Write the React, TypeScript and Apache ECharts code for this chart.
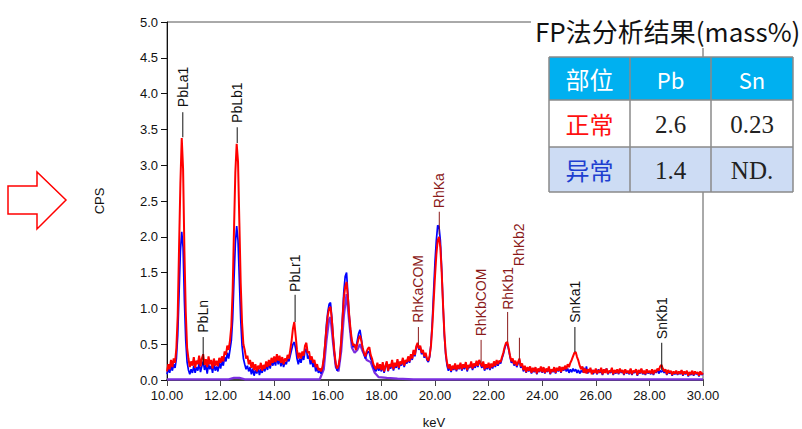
import React, { useEffect, useRef } from "react";
import * as echarts from "echarts";

// ---------- data ----------
const KEV_START = 10;
const KEV_STEP = 0.05;
const X_MIN = 10;
const X_MAX = 30;
const X_INTERVAL = 2;
const Y_MIN = 0;
const Y_MAX = 5;
const Y_INTERVAL = 0.5;

// 正常 (normal) spectrum, cps every 0.05 keV from 10.00 to 30.00
const redCps = [
  0.12,0.22,0.15,0.28,0.18,0.30,0.24,0.45,0.90,1.85,2.75,3.38,2.95,1.80,0.95,0.45,0.30,0.18,0.26,0.20,
  0.32,0.17,0.27,0.22,0.34,0.19,0.30,0.36,0.21,0.29,0.18,0.33,0.22,0.28,0.16,0.30,0.20,0.27,0.19,0.31,
  0.24,0.33,0.26,0.40,0.35,0.48,0.42,0.55,0.75,1.25,2.10,2.90,3.30,3.05,2.20,1.35,0.80,0.50,0.42,0.30,
  0.34,0.22,0.28,0.17,0.25,0.14,0.22,0.12,0.20,0.15,0.24,0.13,0.21,0.16,0.26,0.18,0.28,0.20,0.31,0.24,
  0.33,0.25,0.36,0.27,0.34,0.24,0.32,0.22,0.30,0.26,0.35,0.30,0.42,0.55,0.72,0.81,0.62,0.42,0.30,0.38,
  0.30,0.40,0.34,0.48,0.52,0.38,0.40,0.28,0.33,0.24,0.28,0.18,0.22,0.14,0.16,0.12,0.18,0.30,0.50,0.72,
  0.90,1.00,1.02,0.85,0.60,0.38,0.22,0.16,0.20,0.32,0.55,0.85,1.15,1.30,1.37,1.15,0.90,0.70,0.55,0.48,
  0.50,0.42,0.50,0.58,0.62,0.55,0.45,0.38,0.33,0.40,0.44,0.46,0.35,0.30,0.22,0.18,0.15,0.24,0.16,0.22,
  0.14,0.25,0.12,0.20,0.26,0.13,0.22,0.18,0.28,0.15,0.24,0.19,0.29,0.17,0.26,0.22,0.31,0.20,0.28,0.25,
  0.33,0.26,0.36,0.30,0.42,0.35,0.47,0.52,0.44,0.48,0.38,0.42,0.33,0.38,0.30,0.27,0.34,0.48,0.75,1.10,
  1.45,1.75,1.95,2.00,1.85,1.50,1.05,0.65,0.38,0.24,0.16,0.22,0.13,0.20,0.15,0.23,0.14,0.21,0.16,0.24,
  0.15,0.22,0.17,0.25,0.14,0.21,0.18,0.26,0.16,0.23,0.19,0.27,0.20,0.28,0.24,0.19,0.26,0.15,0.22,0.17,
  0.24,0.16,0.23,0.18,0.26,0.20,0.28,0.22,0.27,0.25,0.32,0.38,0.46,0.52,0.53,0.44,0.34,0.26,0.30,0.22,
  0.27,0.20,0.25,0.30,0.19,0.23,0.14,0.20,0.11,0.18,0.13,0.19,0.10,0.17,0.12,0.18,0.09,0.16,0.12,0.19,
  0.11,0.18,0.10,0.16,0.12,0.19,0.09,0.15,0.12,0.18,0.10,0.17,0.13,0.19,0.11,0.18,0.14,0.20,0.15,0.22,
  0.18,0.24,0.28,0.33,0.38,0.39,0.32,0.27,0.20,0.15,0.19,0.10,0.16,0.09,0.15,0.11,0.17,0.08,0.14,0.10,
  0.16,0.09,0.14,0.11,0.17,0.08,0.15,0.10,0.16,0.09,0.13,0.11,0.17,0.08,0.14,0.10,0.15,0.09,0.16,0.11,
  0.14,0.08,0.15,0.10,0.13,0.09,0.16,0.08,0.13,0.11,0.15,0.07,0.14,0.10,0.16,0.09,0.13,0.08,0.15,0.10,
  0.13,0.09,0.15,0.08,0.14,0.11,0.16,0.13,0.19,0.21,0.16,0.12,0.15,0.08,0.14,0.10,0.13,0.07,0.12,0.09,
  0.13,0.08,0.12,0.09,0.14,0.07,0.12,0.09,0.13,0.06,0.11,0.08,0.13,0.07,0.12,0.09,0.11,0.06,0.12,0.08,0.10,
];

// 异常 (abnormal) spectrum, cps every 0.05 keV from 10.00 to 30.00
const blueCps = [
  0.08,0.16,0.10,0.20,0.13,0.22,0.17,0.30,0.62,1.20,1.80,2.07,1.85,1.10,0.55,0.25,0.14,0.08,0.15,0.10,
  0.20,0.10,0.18,0.13,0.24,0.11,0.19,0.26,0.14,0.21,0.09,0.22,0.15,0.20,0.10,0.23,0.13,0.19,0.12,0.24,
  0.16,0.27,0.20,0.32,0.26,0.38,0.30,0.42,0.55,0.85,1.40,1.90,2.15,1.95,1.40,0.85,0.48,0.30,0.22,0.15,
  0.20,0.12,0.18,0.08,0.16,0.06,0.14,0.09,0.17,0.07,0.15,0.10,0.19,0.12,0.22,0.14,0.25,0.16,0.27,0.20,
  0.28,0.20,0.33,0.22,0.30,0.19,0.27,0.18,0.25,0.22,0.30,0.26,0.34,0.42,0.50,0.53,0.44,0.30,0.22,0.30,
  0.24,0.34,0.28,0.40,0.44,0.30,0.34,0.22,0.28,0.18,0.24,0.12,0.18,0.10,0.13,0.09,0.16,0.30,0.52,0.78,
  0.95,1.06,1.08,0.88,0.60,0.36,0.20,0.13,0.18,0.30,0.55,0.90,1.25,1.45,1.50,1.20,0.90,0.68,0.52,0.46,
  0.48,0.44,0.55,0.65,0.70,0.58,0.44,0.36,0.30,0.36,0.40,0.38,0.30,0.26,0.18,0.15,0.12,0.20,0.13,0.18,
  0.12,0.22,0.10,0.18,0.24,0.12,0.20,0.16,0.26,0.13,0.22,0.17,0.27,0.15,0.24,0.20,0.29,0.18,0.26,0.23,
  0.30,0.24,0.34,0.28,0.40,0.33,0.45,0.50,0.42,0.46,0.36,0.40,0.31,0.36,0.28,0.25,0.32,0.50,0.82,1.25,
  1.65,1.95,2.16,2.14,1.95,1.55,1.05,0.62,0.35,0.20,0.13,0.20,0.11,0.18,0.14,0.21,0.12,0.20,0.15,0.22,
  0.13,0.20,0.15,0.23,0.12,0.19,0.17,0.24,0.14,0.21,0.17,0.25,0.18,0.26,0.22,0.17,0.24,0.13,0.20,0.15,
  0.22,0.14,0.21,0.16,0.24,0.18,0.26,0.20,0.25,0.23,0.30,0.36,0.44,0.50,0.50,0.42,0.32,0.24,0.28,0.20,
  0.25,0.18,0.23,0.28,0.17,0.21,0.12,0.19,0.10,0.17,0.12,0.18,0.09,0.16,0.11,0.17,0.08,0.15,0.11,0.18,
  0.10,0.17,0.09,0.15,0.11,0.18,0.08,0.14,0.11,0.17,0.09,0.16,0.12,0.18,0.10,0.17,0.13,0.18,0.12,0.16,
  0.10,0.15,0.11,0.16,0.12,0.15,0.10,0.14,0.09,0.13,0.11,0.17,0.10,0.19,0.09,0.15,0.11,0.14,0.08,0.13,
  0.12,0.08,0.15,0.10,0.13,0.07,0.14,0.11,0.16,0.08,0.12,0.10,0.15,0.07,0.13,0.09,0.14,0.08,0.15,0.10,
  0.13,0.07,0.14,0.09,0.12,0.08,0.15,0.07,0.12,0.10,0.14,0.06,0.13,0.09,0.15,0.08,0.12,0.07,0.14,0.09,
  0.12,0.08,0.14,0.07,0.13,0.10,0.15,0.09,0.13,0.11,0.14,0.10,0.14,0.07,0.13,0.09,0.12,0.06,0.11,0.08,
  0.12,0.07,0.11,0.08,0.13,0.06,0.11,0.08,0.12,0.05,0.10,0.07,0.12,0.06,0.11,0.08,0.10,0.05,0.11,0.07,0.09,
];

// third (purple) trace: [keV, cps]
const purplePoints: [number, number][] = [
  [10.0, 0.01], [12.3, 0.01], [12.5, 0.03], [12.7, 0.03], [12.9, 0.01], [15.7, 0.01],
  [15.85, 0.15], [15.95, 0.55], [16.05, 0.85], [16.1, 0.88], [16.2, 0.5], [16.3, 0.18],
  [16.4, 0.12], [16.5, 0.4], [16.6, 0.9], [16.7, 1.2], [16.8, 0.8], [16.9, 0.45],
  [17.0, 0.38], [17.1, 0.42], [17.2, 0.5], [17.3, 0.4], [17.45, 0.28], [17.6, 0.25],
  [17.75, 0.1], [17.9, 0.04], [18.2, 0.03], [18.6, 0.02], [19.2, 0.01], [30.0, 0.01],
];

// peak markers
const peakNames = ["PbLa1", "PbLn", "PbLb1", "PbLr1", "RhKaCOM", "RhKa", "RhKbCOM", "RhKb1", "RhKb2", "SnKa1", "SnKb1"];
const peakKeV = [10.59, 11.35, 12.62, 14.78, 19.38, 20.16, 21.72, 22.71, 23.15, 25.22, 28.46];
const peakLineFrom = [3.39, 0.21, 3.31, 0.81, 0.49, 2.03, 0.24, 0.53, 0.28, 0.39, 0.14];
const peakLineTo = [3.74, 0.60, 3.53, 1.19, 0.74, 2.35, 0.56, 0.95, 0.59, 0.74, 0.52];
const peakTextAt = [3.81, 0.66, 3.59, 1.23, 0.80, 2.40, 0.61, 0.98, 1.59, 0.80, 0.57];
const peakIsRh = [0, 0, 0, 0, 1, 1, 1, 1, 1, 0, 0];

// result table
const tableTitle = "FP法分析结果(mass%)";
const tableHeader = ["部位", "Pb", "Sn"];
const tableRowNames = ["正常", "异常"];
const tablePb = ["2.6", "1.4"];
const tableSn = ["0.23", "ND."];

// ---------- component ----------
const SANS = '"Liberation Sans", Arial, sans-serif';
const CJK = '"Noto Sans CJK SC", "Noto Sans", sans-serif';
const SERIF = '"Liberation Serif", "DejaVu Serif", serif';
const RH_COLOR = "#8b1a1a";

function txt(x: number, y: number, text: string, fill: string, font: string, extra: any = {}) {
  return {
    type: "text",
    x,
    y,
    z: 20,
    ...extra,
    style: {
      text,
      fill,
      font,
      align: "center",
      verticalAlign: "middle",
      textAlign: "center",
      textVerticalAlign: "middle",
    },
  };
}

export default function App() {
  const ref = useRef<HTMLDivElement>(null);

  useEffect(() => {
    if (!ref.current) return;
    const chart = echarts.init(ref.current, undefined, { renderer: "svg" });

    const red = redCps.map((v, i) => [KEV_START + i * KEV_STEP, v]);
    const blue = blueCps.map((v, i) => [KEV_START + i * KEV_STEP, v]);
    const peaks = peakNames.map((_, i) => [peakKeV[i], peakLineFrom[i], peakLineTo[i], peakTextAt[i], i]);

    // table geometry
    const cx = [549, 630, 711, 793];
    const ry = [57, 100, 147, 192];
    const graphics: any[] = [];
    graphics.push({ type: "rect", z: 15, shape: { x: cx[0], y: ry[0], width: cx[3] - cx[0], height: ry[1] - ry[0] }, style: { fill: "#00b0f0" } });
    graphics.push({ type: "rect", z: 15, shape: { x: cx[0], y: ry[1], width: cx[3] - cx[0], height: ry[2] - ry[1] }, style: { fill: "#ffffff" } });
    graphics.push({ type: "rect", z: 15, shape: { x: cx[0], y: ry[2], width: cx[3] - cx[0], height: ry[3] - ry[2] }, style: { fill: "#cddcf4" } });
    for (let i = 0; i < cx.length; i++) {
      graphics.push({ type: "line", z: 16, shape: { x1: cx[i], y1: ry[0], x2: cx[i], y2: ry[3] }, style: { stroke: "#8a8a8a", lineWidth: 1.5 } });
    }
    for (let j = 0; j < ry.length; j++) {
      graphics.push({ type: "line", z: 16, shape: { x1: cx[0], y1: ry[j], x2: cx[3], y2: ry[j] }, style: { stroke: "#8a8a8a", lineWidth: 1.5 } });
    }
    const colMid = [(cx[0] + cx[1]) / 2, (cx[1] + cx[2]) / 2, (cx[2] + cx[3]) / 2];
    const rowMid = [(ry[0] + ry[1]) / 2, (ry[1] + ry[2]) / 2, (ry[2] + ry[3]) / 2];
    graphics.push(txt(colMid[0], rowMid[0], tableHeader[0], "#ffffff", `24px ${CJK}`));
    graphics.push(txt(colMid[1], rowMid[0], tableHeader[1], "#ffffff", `22px ${CJK}`));
    graphics.push(txt(colMid[2], rowMid[0], tableHeader[2], "#ffffff", `22px ${CJK}`));
    const nameColors = ["#ff1010", "#1e3fd0"];
    for (let r = 0; r < 2; r++) {
      graphics.push(txt(colMid[0], rowMid[r + 1], tableRowNames[r], nameColors[r], `24px ${CJK}`));
      graphics.push(txt(colMid[1], rowMid[r + 1] + 1, tablePb[r], "#222222", `25px ${SERIF}`));
      graphics.push(txt(colMid[2], rowMid[r + 1] + 1, tableSn[r], "#222222", `25px ${SERIF}`));
    }
    // title with white background over frame
    graphics.push({ type: "rect", z: 14, shape: { x: 531, y: 6, width: 271, height: 42 }, style: { fill: "#ffffff" } });
    graphics.push({
      type: "text", x: 535, y: 30, z: 20,
      style: { text: tableTitle, fill: "#111111", font: `26px ${CJK}`, align: "left", verticalAlign: "middle", textAlign: "left", textVerticalAlign: "middle" },
    });
    // arrow
    graphics.push({
      type: "polygon", z: 20,
      shape: { points: [[8, 186], [37, 186], [37, 172], [66, 200], [37, 229], [37, 214], [8, 214]] },
      style: { fill: "#ffffff", stroke: "#ff0000", lineWidth: 1.5 },
    });
    // axis names
    graphics.push(txt(99, 201, "CPS", "#111111", `13px ${SANS}`, { rotation: Math.PI / 2 }));
    graphics.push(txt(434, 422, "keV", "#111111", `13px ${SANS}`));

    const option: any = {
      animation: false,
      backgroundColor: "#ffffff",
      grid: {
        left: 167, right: 99, top: 22, bottom: 49,
        show: true, borderColor: "#555555", borderWidth: 1, backgroundColor: "transparent",
      },
      xAxis: {
        type: "value",
        min: X_MIN, max: X_MAX, interval: X_INTERVAL,
        axisLine: { show: true, onZero: false, lineStyle: { color: "#444444", width: 2 } },
        axisTick: { show: true, length: 6, lineStyle: { color: "#444444" } },
        axisLabel: { formatter: (v: number) => v.toFixed(2), fontSize: 13, color: "#111111", margin: 9, fontFamily: SANS },
        splitLine: { show: false },
      },
      yAxis: {
        type: "value",
        min: Y_MIN, max: Y_MAX, interval: Y_INTERVAL,
        axisLine: { show: true, lineStyle: { color: "#111111", width: 1 } },
        axisTick: { show: true, length: 6, lineStyle: { color: "#111111" } },
        axisLabel: { formatter: (v: number) => v.toFixed(1), fontSize: 13, color: "#111111", margin: 9, fontFamily: SANS },
        splitLine: { show: false },
      },
      graphic: graphics,
      series: [
        {
          type: "line", data: purplePoints, symbol: "none", z: 3,
          lineStyle: { color: "#7a2ee0", width: 2.2 },
        },
        {
          type: "line", data: blue, symbol: "none", z: 4,
          lineStyle: { color: "#0000ff", width: 1.7 },
        },
        {
          type: "line", data: red, symbol: "none", z: 5,
          lineStyle: { color: "#ff0000", width: 2 },
        },
        {
          type: "custom",
          z: 6,
          clip: false,
          encode: { x: 0, y: [1, 2, 3] },
          data: peaks,
          renderItem: (params: any, api: any) => {
            const k = api.value(0);
            const idx = api.value(4);
            const p1 = api.coord([k, api.value(1)]);
            const p2 = api.coord([k, api.value(2)]);
            const p3 = api.coord([k, api.value(3)]);
            const color = peakIsRh[idx] ? RH_COLOR : "#111111";
            return {
              type: "group",
              children: [
                { type: "line", shape: { x1: p1[0], y1: p1[1], x2: p2[0], y2: p2[1] }, style: { stroke: color, lineWidth: 1 } },
                {
                  type: "text", x: p3[0], y: p3[1], rotation: Math.PI / 2,
                  style: {
                    text: peakNames[idx], fill: color, font: `14px ${SANS}`,
                    align: "left", verticalAlign: "middle", textAlign: "left", textVerticalAlign: "middle",
                  },
                },
              ],
            };
          },
        },
      ],
    };
    chart.setOption(option);
    return () => chart.dispose();
  }, []);

  return (
    <div style={{ position: "absolute", left: 0, top: 0, width: 802, height: 429, background: "#fff" }}>
      <div ref={ref} style={{ width: 802, height: 429 }} />
    </div>
  );
}
